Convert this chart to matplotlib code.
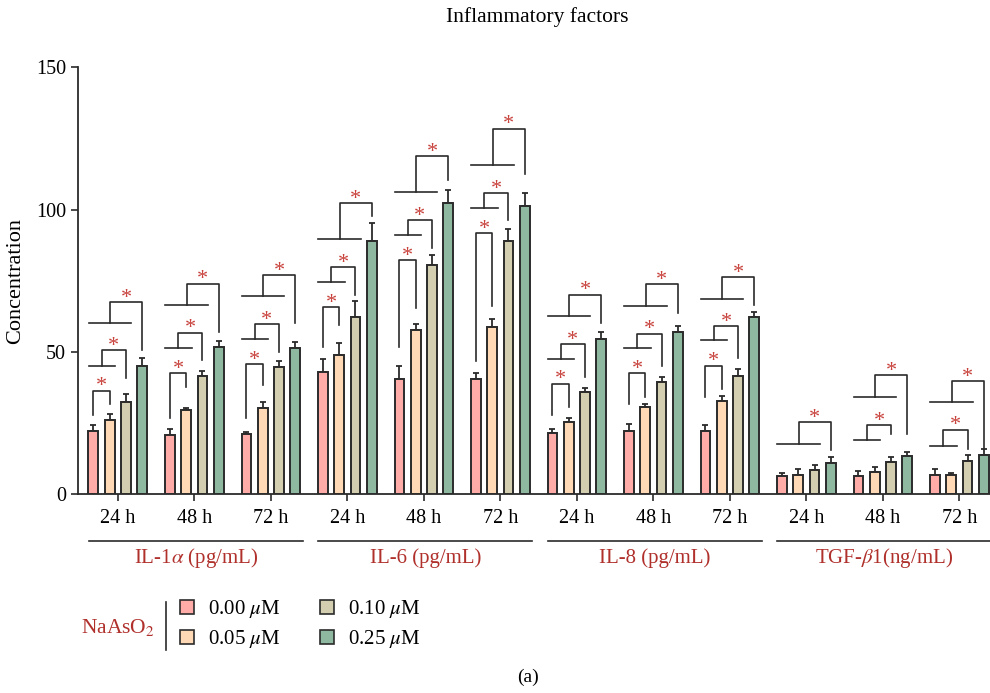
import numpy as np
import matplotlib
matplotlib.use('Agg')
import matplotlib.pyplot as plt
from matplotlib.patches import Patch
from matplotlib.lines import Line2D
import matplotlib.transforms as mtransforms

plt.rcParams['font.family'] = ['Liberation Serif', 'DejaVu Serif']
plt.rcParams['mathtext.fontset'] = 'stix'

# ---- data ----
times = ['24 h', '48 h', '72 h'] * 4
factors = ['IL-1$\\alpha$ (pg/mL)', 'IL-6 (pg/mL)', 'IL-8 (pg/mL)', 'TGF-$\\beta$1(ng/mL)']
doses = ['0.00 $\\mu$M', '0.05 $\\mu$M', '0.10 $\\mu$M', '0.25 $\\mu$M']

c000 = [22.2, 20.8, 21.0, 43.0, 40.5, 40.4, 21.5, 22.2, 22.1, 6.4, 6.3, 6.8]
c005 = [25.9, 29.4, 30.3, 48.9, 57.6, 58.7, 25.4, 30.5, 32.7, 6.8, 7.8, 6.8]
c010 = [32.4, 41.4, 44.7, 62.1, 80.5, 88.8, 35.9, 39.3, 41.4, 8.3, 11.2, 11.7]
c025 = [45.1, 51.7, 51.4, 88.8, 102.3, 101.2, 54.4, 57.0, 62.1, 11.0, 13.5, 13.8]

e000 = [2.1, 2.0, 0.9, 4.3, 4.6, 2.1, 1.3, 2.4, 2.2, 1.1, 1.7, 1.9]
e005 = [2.2, 0.9, 1.9, 4.2, 2.1, 2.8, 1.4, 1.2, 1.8, 1.9, 1.6, 0.7]
e010 = [2.8, 2.0, 2.1, 5.7, 3.6, 4.4, 1.4, 1.9, 2.5, 2.0, 1.9, 1.9]
e025 = [2.9, 2.1, 2.1, 6.5, 4.5, 4.6, 2.6, 2.1, 1.9, 2.1, 1.3, 1.9]

# significance brackets per group: (last bar compared, base/leg bottom, top, drop end)
brackets = [
    [(1, 27.7, 36.4, 31.5), (2, 45.1, 50.5, 40.9), (3, 60.2, 67.5, 50.6)],
    [(1, 26.6, 42.5, 37.7), (2, 51.2, 56.7, 47.1), (3, 66.4, 73.9, 56.8)],
    [(1, 26.8, 45.7, 38.3), (2, 54.4, 59.7, 50.0), (3, 69.5, 76.9, 60.0)],
    [(1, 51.7, 65.8, 59.3), (2, 74.5, 79.8, 70.1), (3, 89.7, 102.3, 97.8)],
    [(1, 51.6, 82.2, 65.4), (2, 90.9, 96.2, 86.5), (3, 106.1, 118.8, 110.5)],
    [(1, 46.8, 91.8, 66.1), (2, 100.6, 105.8, 96.2), (3, 115.7, 128.4, 112.5)],
    [(1, 27.7, 38.8, 30.7), (2, 47.5, 52.7, 41.2), (3, 62.5, 70.1, 60.2)],
    [(1, 31.5, 42.5, 34.2), (2, 51.2, 56.4, 45.0), (3, 66.1, 73.8, 63.8)],
    [(1, 34.2, 45.1, 37.1), (2, 54.0, 59.0, 47.7), (3, 68.7, 76.3, 66.6)],
    [(3, 17.7, 25.4, 15.5)],
    [(2, 19.1, 24.3, 21.0), (3, 34.1, 41.7, 21.0)],
    [(2, 17.0, 22.7, 15.9), (3, 32.2, 39.8, 15.8)],
]

colors = ['#FFABA8', '#FFD9B6', '#D2CEAF', '#8FB8A0']
red = '#B0302C'
star_red = '#C8413B'
dark = '#2B2B2B'

fig = plt.figure(figsize=(9.9, 6.93), dpi=100)
ax = fig.add_axes([0.0788, 0.287, 0.9212, 0.616])

x = np.arange(len(times))
step = 0.213
width = 0.127
means = [c000, c005, c010, c025]
errs = [e000, e005, e010, e025]
for k in range(4):
    xs = x + (k - 1.5) * step
    ax.bar(xs, means[k], width, color=colors[k], edgecolor=dark, linewidth=1.4, zorder=3)
    ax.errorbar(xs, means[k], yerr=[np.zeros(len(x)), errs[k]], fmt='none',
                ecolor=dark, elinewidth=1.3, capsize=2.5, capthick=1.3, zorder=2)

# brackets with stars
for g, blist in enumerate(brackets):
    bx = x[g] + (np.arange(4) - 1.5) * step
    for last, base, top, drop in blist:
        if last == 1:
            xl = bx[0]
            ax.plot([xl, xl, bx[1], bx[1]], [base, top, top, drop], color=dark, lw=1.2, zorder=4)
        else:
            left = bx[0] - 0.06
            right = bx[last - 1] + 0.07
            xl = (left + right) / 2
            ax.plot([left, right], [base, base], color=dark, lw=1.2, zorder=4)
            ax.plot([xl, xl, bx[last], bx[last]], [base, top, top, drop], color=dark, lw=1.2, zorder=4)
        ax.text((xl + bx[last]) / 2, top - 2.0, '*', color=star_red, fontsize=16,
                ha='center', va='bottom')

ax.set_xlim(-0.52, 11.4)
ax.set_ylim(0, 150)
ax.set_yticks([0, 50, 100, 150])
ax.set_xticks(x)
ax.set_xticklabels(times)
ax.tick_params(axis='both', labelsize=14.5, length=5, width=1.2, color=dark, direction='out')
ax.tick_params(axis='x', pad=6)
for s in ['top', 'right']:
    ax.spines[s].set_visible(False)
for s in ['left', 'bottom']:
    ax.spines[s].set_linewidth(1.3)
    ax.spines[s].set_color(dark)
ax.set_ylabel('Concentration', fontsize=16)
ax.yaxis.set_label_coords(-0.058, 0.5)

# group lines and factor labels below the axis
trans = mtransforms.blended_transform_factory(ax.transData, ax.transAxes)
for i, name in enumerate(factors):
    x0 = x[3 * i] - 0.38
    x1 = x[3 * i + 2] + 0.42
    ax.add_line(Line2D([x0, x1], [-0.110, -0.110], transform=trans, color=dark, lw=1.2, clip_on=False))
    ax.text((x0 + x1) / 2, -0.150, name, transform=trans, ha='center', va='center',
            fontsize=15, color=red)

fig.text(0.543, 0.975, 'Inflammatory factors', ha='center', va='center', fontsize=15.5)
fig.text(0.533, 0.023, '(a)', ha='center', va='center', fontsize=14)

# legend
fig.text(81 / 990, 1 - 627 / 693, 'NaAsO$_2$', ha='left', va='center', fontsize=15.5, color=red)
fig.add_artist(Line2D([166 / 990, 166 / 990], [1 - 602 / 693, 1 - 650 / 693], color=dark, lw=1.2))
handles = [Patch(facecolor=c, edgecolor=dark, linewidth=1.2) for c in colors]
fig.legend(handles, doses, ncol=2, loc='upper left', bbox_to_anchor=(180 / 990, 1 - 598 / 693),
           frameon=False, fontsize=15, handlelength=0.67, handleheight=0.67,
           handletextpad=0.67, columnspacing=1.9, labelspacing=0.4, borderpad=0, borderaxespad=0)

fig.savefig('out.png', dpi=100)
